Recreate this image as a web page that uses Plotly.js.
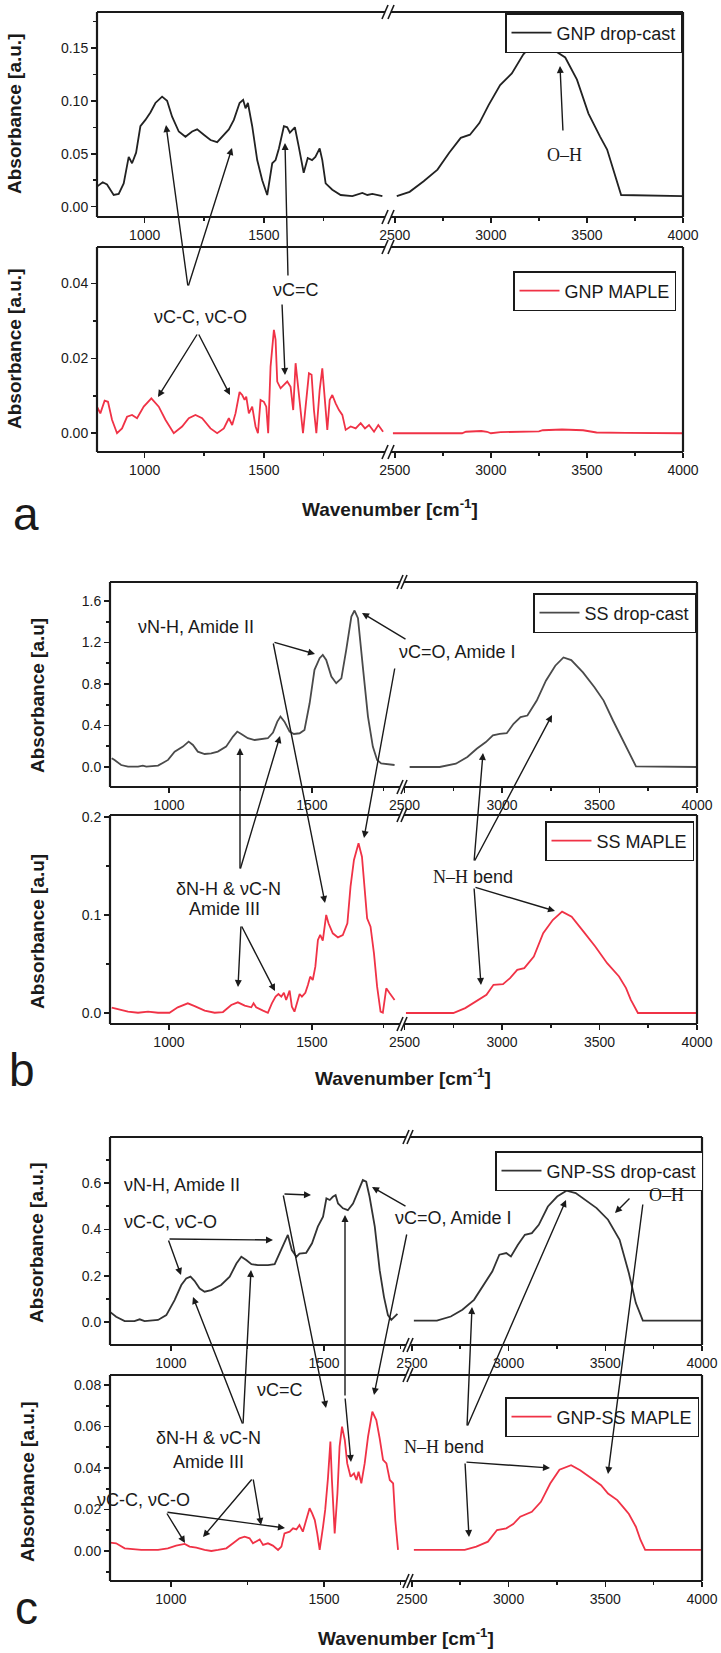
<!DOCTYPE html>
<html>
<head>
<meta charset="utf-8">
<script src="https://cdn.plot.ly/plotly-3.0.1.min.js"></script>
<style>html,body{margin:0;padding:0;background:#fff}#chart{width:721px;height:1653px}</style>
</head>
<body>
<div id="chart"></div>
<script>
// ---------- DATA ----------
// Panel a: GNP
const gnpDropLeftX = [800,824,842,870,891,912,933,947,964,982,1003,1024,1045,1073,1094,1115,1143,1171,1199,1220,1248,1276,1304,1332,1353,1374,1398,1413,1423,1433,1451,1472,1493,1514,1535,1549,1563,1584,1598,1609,1630,1646,1667,1684,1702,1716,1734,1745,1759,1787,1822,1871,1913,1934,1955,1997];
const gnpDropLeftY = [0.019,0.023,0.021,0.011,0.012,0.022,0.047,0.041,0.051,0.076,0.082,0.089,0.098,0.104,0.100,0.085,0.071,0.066,0.071,0.073,0.068,0.063,0.061,0.068,0.073,0.082,0.098,0.101,0.093,0.098,0.076,0.044,0.025,0.011,0.041,0.044,0.055,0.076,0.075,0.070,0.075,0.057,0.032,0.046,0.044,0.047,0.055,0.044,0.022,0.016,0.011,0.010,0.013,0.011,0.012,0.010];
const gnpDropRightX = [2510,2577,2650,2722,2783,2843,2891,2940,2988,3048,3109,3169,3230,3278,3327,3387,3448,3508,3569,3605,3678,4000];
const gnpDropRightY = [0.010,0.014,0.024,0.035,0.051,0.065,0.068,0.079,0.096,0.115,0.126,0.144,0.156,0.156,0.148,0.141,0.120,0.088,0.066,0.054,0.011,0.010];
const gnpMapleLeftX = [800,814,832,846,863,884,905,926,947,968,996,1028,1059,1087,1122,1157,1185,1213,1241,1276,1304,1332,1353,1367,1381,1398,1409,1419,1426,1437,1451,1465,1475,1486,1500,1510,1518,1528,1542,1549,1556,1570,1584,1598,1612,1623,1633,1643,1654,1664,1675,1689,1700,1710,1720,1734,1745,1756,1766,1776,1787,1801,1815,1829,1843,1864,1885,1906,1924,1941,1962,1980,2000];
const gnpMapleLeftY = [0.0071,0.0053,0.0087,0.0084,0.0036,0.0,0.0013,0.0044,0.0049,0.004,0.0071,0.0093,0.0071,0.0036,0.0,0.0018,0.004,0.0049,0.004,0.0013,0.0,0.0013,0.004,0.0022,0.0053,0.011,0.0102,0.0089,0.0098,0.0053,0.0071,0.0018,0.0,0.0089,0.0084,0.0071,0.0,0.0178,0.0276,0.025,0.0138,0.012,0.0129,0.0138,0.0124,0.0062,0.0187,0.0124,0.0062,0.0,0.0071,0.016,0.0156,0.0062,0.0,0.0116,0.0173,0.0098,0.0009,0.0089,0.0102,0.008,0.0062,0.0049,0.0009,0.0018,0.0013,0.0027,0.0013,0.0022,0.0004,0.0022,0.0004];
const gnpMapleRightX = [2490,2850,2870,2950,2980,3000,3050,3250,3270,3370,3480,3550,3700,4000];
const gnpMapleRightY = [0,0,0.0004,0.0006,0.0004,0,0.0003,0.0005,0.0008,0.001,0.0008,0.0002,0.0001,0];
// Panel b: SS
const ssDropLeftX = [800,810,833,857,892,909,921,962,997,1020,1049,1069,1084,1101,1125,1148,1171,1200,1224,1239,1253,1276,1300,1323,1346,1364,1379,1390,1404,1422,1437,1457,1474,1492,1509,1527,1538,1550,1568,1585,1603,1620,1638,1649,1661,1678,1696,1713,1728,1742,1766,1789];
const ssDropLeftY = [0.084,0.068,0.019,0.003,0.003,0.013,0.003,0.013,0.068,0.148,0.196,0.244,0.212,0.148,0.125,0.132,0.148,0.196,0.293,0.341,0.318,0.277,0.26,0.267,0.277,0.331,0.437,0.486,0.437,0.341,0.318,0.325,0.357,0.614,0.936,1.048,1.08,1.032,0.871,0.807,0.855,1.129,1.45,1.508,1.434,0.968,0.486,0.196,0.068,0.035,0.029,0.019];
const ssDropRightX = [2526,2680,2763,2822,2870,2917,2953,2988,3024,3059,3095,3130,3178,3225,3273,3315,3355,3415,3474,3521,3569,3628,3687,4000];
const ssDropRightY = [0,0,0.032,0.096,0.176,0.24,0.304,0.32,0.326,0.416,0.48,0.496,0.64,0.832,0.976,1.056,1.03,0.912,0.768,0.64,0.448,0.224,0.006,0];
const ssMapleLeftX = [800,822,857,892,927,962,1002,1031,1066,1090,1125,1160,1189,1218,1241,1265,1288,1296,1305,1329,1346,1360,1373,1383,1393,1402,1410,1422,1430,1439,1449,1457,1465,1477,1486,1494,1503,1512,1521,1529,1538,1550,1558,1573,1591,1608,1624,1635,1647,1663,1675,1684,1693,1705,1717,1728,1740,1748,1760,1772,1783,1789];
const ssMapleLeftY = [0.0054,0.0037,0.0014,0.0003,0.0014,0.0003,0.0003,0.0058,0.0099,0.0071,0.0024,0.0003,0.001,0.0082,0.0109,0.0075,0.0058,0.0099,0.0058,0.0024,0.0003,0.0099,0.0167,0.0194,0.0167,0.0207,0.0133,0.0228,0.0065,0.0014,0.0116,0.0194,0.0167,0.0207,0.0286,0.0371,0.0337,0.0473,0.0745,0.0796,0.0738,0.1,0.0915,0.0813,0.0772,0.0796,0.0915,0.1289,0.1561,0.1731,0.1595,0.1289,0.0966,0.0881,0.0609,0.0269,0.0014,0.0003,0.0252,0.0201,0.015,0.0133];
const ssMapleRightX = [2507,2750,2811,2883,2920,2956,3005,3041,3078,3114,3163,3211,3260,3308,3357,3418,3478,3539,3600,3636,3660,3697,4000];
const ssMapleRightY = [0,0,0.005,0.0142,0.0186,0.0288,0.0295,0.0356,0.044,0.0458,0.0576,0.0814,0.0949,0.1034,0.0983,0.083,0.0678,0.0508,0.0373,0.0254,0.0136,0,0];
// Panel c: GNP-SS
const gsDropLeftX = [800,821,849,881,898,914,958,985,1012,1034,1050,1064,1077,1094,1110,1132,1164,1192,1214,1230,1246,1263,1284,1317,1339,1350,1366,1382,1395,1410,1420,1442,1461,1480,1497,1508,1519,1529,1538,1546,1562,1578,1595,1611,1627,1638,1649,1666,1682,1696,1709,1720,1731,1740];
const gsDropLeftY = [0.045,0.023,0.004,0.004,0.012,0.004,0.009,0.030,0.095,0.160,0.188,0.196,0.178,0.145,0.131,0.138,0.160,0.196,0.253,0.282,0.268,0.250,0.246,0.246,0.250,0.282,0.332,0.376,0.311,0.282,0.296,0.299,0.340,0.412,0.455,0.534,0.527,0.541,0.548,0.512,0.491,0.483,0.512,0.563,0.613,0.606,0.541,0.412,0.224,0.109,0.030,0.009,0.023,0.035];
const gsDropRightX = [2510,2629,2701,2761,2821,2880,2916,2952,2988,3012,3048,3084,3120,3156,3203,3251,3299,3347,3395,3455,3514,3574,3622,3658,3694,4000];
const gsDropRightY = [0.006,0.006,0.024,0.053,0.096,0.176,0.219,0.291,0.298,0.283,0.334,0.377,0.384,0.42,0.499,0.542,0.567,0.557,0.528,0.492,0.442,0.355,0.211,0.082,0.006,0.006];
const gsMapleLeftX = [800,821,849,903,958,990,1017,1045,1061,1083,1110,1132,1154,1181,1203,1224,1241,1257,1268,1279,1290,1301,1317,1333,1350,1361,1371,1388,1399,1410,1420,1431,1442,1453,1461,1470,1478,1486,1497,1504,1513,1521,1526,1535,1544,1551,1559,1568,1576,1587,1598,1606,1613,1622,1633,1644,1658,1671,1682,1693,1704,1715,1726,1733,1742];
const gsMapleLeftY = [0.004,0.0037,0.0013,0.0005,0.0005,0.0013,0.0026,0.0034,0.0021,0.0016,0.0005,0,0.0005,0.0013,0.0037,0.0061,0.0069,0.0061,0.0037,0.0045,0.0056,0.0029,0.0037,0.0026,0.0005,0.0021,0.0085,0.0093,0.0109,0.0104,0.0125,0.0093,0.0149,0.0206,0.0182,0.0149,0.0085,0.0005,0.0117,0.0198,0.035,0.0527,0.0342,0.0085,0.0278,0.0503,0.0599,0.0535,0.0422,0.0358,0.0374,0.0342,0.0382,0.0326,0.0422,0.0551,0.0671,0.0631,0.0543,0.0439,0.0422,0.0342,0.0326,0.0149,0.0005];
const gsMapleRightX = [2510,2773,2833,2893,2940,2988,3024,3060,3120,3167,3215,3263,3323,3370,3430,3478,3514,3562,3598,3622,3658,3682,3706,3789,3885,4000];
const gsMapleRightY = [0.0005,0.0005,0.0021,0.0045,0.0101,0.0109,0.013,0.0165,0.0189,0.0237,0.0325,0.0392,0.0413,0.0389,0.0349,0.0317,0.0277,0.0245,0.0205,0.0178,0.0117,0.0053,0.0005,0.0005,0.0008,0.0005];

const seriesNames = ["GNP drop-cast","GNP MAPLE","SS drop-cast","SS MAPLE","GNP-SS drop-cast","GNP-SS MAPLE"];
const leftTickVals = [1000,1500];
const rightTickVals = [2500,3000,3500,4000];

// ---------- LAYOUT GEOMETRY (pixels) ----------
const W = 721, H = 1653;
const xf = p => p / W, yf = p => 1 - p / H;
const SANS = "Liberation Sans, Arial, sans-serif";
const SERIF = "Liberation Serif, Times New Roman, serif";
const INK = "#1a1a1a";
const RED = "rgb(240,50,70)";

const rows = [
  {top:12,  bot:217,  L:[97,385],  R:[391,683], xrL:[800,2008], xrR:[2480,4000], yr:[-0.0098,0.184], dt:0.05, fmt:".2f", x:gnpDropLeftX, y:gnpDropLeftY, x2:gnpDropRightX, y2:gnpDropRightY, color:"#222", leg:[682,13]},
  {top:247, bot:452,  L:[97,385],  R:[391,683], xrL:[800,2008], xrR:[2480,4000], yr:[-0.005,0.0497], dt:0.02, fmt:".2f", x:gnpMapleLeftX, y:gnpMapleLeftY, x2:gnpMapleRightX, y2:gnpMapleRightY, color:RED, leg:[676,271]},
  {top:582, bot:787,  L:[110,400], R:[404,697], xrL:[794,1808], xrR:[2497,4000], yr:[-0.193,1.783], dt:0.4, fmt:".1f", x:ssDropLeftX, y:ssDropLeftY, x2:ssDropRightX, y2:ssDropRightY, color:"#4a4a4a", leg:[696,593]},
  {top:815, bot:1024, L:[110,400], R:[404,697], xrL:[794,1808], xrR:[2497,4000], yr:[-0.0112,0.202], dt:0.1, fmt:".1f", x:ssMapleLeftX, y:ssMapleLeftY, x2:ssMapleRightX, y2:ssMapleRightY, color:RED, leg:[694,821]},
  {top:1137,bot:1345, L:[110,406], R:[410,702], xrL:[801,1768], xrR:[2490,4000], yr:[-0.099,0.799], dt:0.2, fmt:".1f", x:gsDropLeftX, y:gsDropLeftY, x2:gsDropRightX, y2:gsDropRightY, color:"#333", leg:[703,1151]},
  {top:1375,bot:1581, L:[110,406], R:[410,702], xrL:[801,1768], xrR:[2490,4000], yr:[-0.01446,0.0848], dt:0.02, fmt:".2f", x:gsMapleLeftX, y:gsMapleLeftY, x2:gsMapleRightX, y2:gsMapleRightY, color:RED, leg:[699,1397]}
];

const layout = {
  width: W, height: H, margin:{l:0,r:0,t:0,b:0}, paper_bgcolor:"#fff", plot_bgcolor:"rgba(0,0,0,0)",
  font:{family:SANS, color:INK, size:14}, shapes:[], annotations:[]
};
const data = [];
const tickfont = {family:SANS, size:14, color:INK};

function line(x0,y0,x1,y1,w){
  layout.shapes.push({type:"line", xref:"paper", yref:"paper", x0:xf(x0), y0:yf(y0), x1:xf(x1), y1:yf(y1), line:{color:INK, width:w||2.2}});
}

rows.forEach((r,i)=>{
  const xa = 2*i+1, xb = 2*i+2, ya = i+1;
  const xkA = xa===1 ? "xaxis" : "xaxis"+xa;
  const yk = ya===1 ? "yaxis" : "yaxis"+ya;
  const xidA = xa===1 ? "x" : "x"+xa, xidB = "x"+xb, yid = ya===1 ? "y" : "y"+ya;
  const legKey = i===0 ? "legend" : "legend"+(i+1);
  const common = {showgrid:false, zeroline:false, showline:false, ticks:"outside", ticklen:5, tickwidth:1.6, tickcolor:INK, tickfont:tickfont, fixedrange:true};
  layout[xkA] = Object.assign({}, common, {domain:[xf(r.L[0]), xf(r.L[1])], range:r.xrL, anchor:yid, tickmode:"array", tickvals:leftTickVals,
     minor:{tickmode:"array", tickvals:[1250,1750], ticks:"outside", ticklen:3, tickwidth:1.6, tickcolor:INK}});
  layout["xaxis"+xb] = Object.assign({}, common, {domain:[xf(r.R[0]), xf(r.R[1])], range:r.xrR, anchor:yid, tickmode:"array", tickvals:rightTickVals,
     minor:{tickmode:"array", tickvals:[2750,3250,3750], ticks:"outside", ticklen:3, tickwidth:1.6, tickcolor:INK}});
  layout[yk] = Object.assign({}, common, {domain:[yf(r.bot), yf(r.top)], range:r.yr, anchor:xidA, dtick:r.dt, tick0:0, tickformat:r.fmt,
     minor:{dtick:r.dt/2, tick0:0, ticks:"outside", ticklen:3, tickwidth:1.6, tickcolor:INK}});
  layout[legKey] = {x:xf(r.leg[0]), xanchor:"right", y:yf(r.leg[1]), yanchor:"top", bgcolor:"#fff", bordercolor:INK, borderwidth:1.5,
     font:{family:SANS, size:18, color:INK}, itemwidth:40, tracegroupgap:0};
  data.push({type:"scatter", mode:"lines", x:r.x, y:r.y, xaxis:xidA, yaxis:yid, name:seriesNames[i], legend:legKey, showlegend:true,
     line:{color:r.color, width:1.8}, hoverinfo:"skip"});
  data.push({type:"scatter", mode:"lines", x:r.x2, y:r.y2, xaxis:xidB, yaxis:yid, name:seriesNames[i], legend:legKey, showlegend:false,
     line:{color:r.color, width:1.8}, hoverinfo:"skip"});
  // frame with broken axis
  line(r.L[0], r.top, r.L[0], r.bot);
  line(r.R[1], r.top, r.R[1], r.bot);
  line(r.L[0], r.top, r.L[1], r.top); line(r.R[0], r.top, r.R[1], r.top);
  line(r.L[0], r.bot, r.L[1], r.bot); line(r.R[0], r.bot, r.R[1], r.bot);
  [r.top, r.bot].forEach(yy=>{
    line(r.L[1]-3, yy+7, r.L[1]+3, yy-7, 1.6);
    line(r.R[0]-3, yy+7, r.R[0]+3, yy-7, 1.6);
  });
});

// ---------- TEXT LABELS ----------
function txt(t,x,y,opt){
  layout.annotations.push(Object.assign({text:t, xref:"paper", yref:"paper", x:xf(x), y:yf(y), xanchor:"center", yanchor:"middle",
    showarrow:false, font:{family:SANS, size:18, color:INK}}, opt||{}));
}
function arrow(tx,ty,hx,hy){
  layout.annotations.push({text:"", xref:"paper", yref:"paper", x:xf(hx), y:yf(hy), axref:"pixel", ayref:"pixel", ax:tx-hx, ay:ty-hy,
    showarrow:true, arrowhead:2, arrowsize:1, arrowwidth:1.4, arrowcolor:INK, standoff:0});
}
const NH = '<span style="font-family:Liberation Serif">N–H</span> bend';
const serif = {font:{family:SERIF, size:18, color:INK}};
const bold = {family:SANS, size:19, color:INK, weight:"bold"};

// y titles
[["Absorbance [a.u.]",14,114],["Absorbance [a.u.]",14,349],["Absorbance [a.u]",37,696],["Absorbance [a.u]",37,932],["Absorbance [a.u.]",36,1243],["Absorbance [a.u.]",27,1482]]
  .forEach(a=>txt(a[0],a[1],a[2],{textangle:-90, font:bold}));
// x titles
[[390,508],[403,1077],[406,1637]].forEach(a=>txt("Wavenumber [cm<sup>-1</sup>]",a[0],a[1],{font:bold}));
// panel letters
[["a",26,514],["b",22,1070],["c",27,1608]].forEach(a=>txt(a[0],a[1],a[2],{font:{family:SANS,size:46,color:INK}}));

// panel a
txt("νC-C, νC-O",200,317);
txt("νC=C",296,290);
txt("O–H",564,155,serif);
arrow(188,287,166,125); arrow(188,287,232,148);
arrow(198,333,158,397); arrow(198,333,230,395);
arrow(288,277,285,143); arrow(282,303,285,375);
arrow(563,132,560,66);

// panel b
txt("νN-H, Amide II",196,627);
txt("νC=O, Amide I",457,652);
txt("δN-H &amp; νC-N",228,889);
txt("Amide III",225,909);
txt(NH,473,877);
arrow(273,642,315,654); arrow(273,642,325,903);
arrow(407,640,362,613); arrow(395,667,364,838);
arrow(240,870,240,748); arrow(240,870,280,736);
arrow(241,925,238,987); arrow(241,925,275,991);
arrow(474,862,483,753); arrow(474,862,552,715);
arrow(474,887,481,985); arrow(474,887,555,911);

// panel c
txt("νN-H, Amide II",182,1185);
txt("νC-C, νC-O",170,1222);
txt("νC=O, Amide I",453,1218);
txt("O–H",666,1195,serif);
txt("δN-H &amp; νC-N",208,1438);
txt("Amide III",208,1462);
txt("νC-C, νC-O",143,1500);
txt("νC=C",280,1390);
txt(NH,444,1447);
arrow(168,1239,273,1240); arrow(168,1239,181,1275);
arrow(283,1194,311,1195); arrow(283,1194,326,1408);
arrow(407,1207,372,1187); arrow(407,1233,374,1395);
arrow(631,1197,615,1213); arrow(643,1203,608,1474);
arrow(243,1425,251,1270); arrow(243,1425,193,1297);
arrow(253,1478,203,1537); arrow(253,1478,261,1525);
arrow(166,1512,185,1543); arrow(166,1512,285,1528);
arrow(345,1397,351,1462); arrow(345,1397,345,1215);
arrow(465,1462,469,1537); arrow(465,1462,550,1468);
arrow(467,1427,472,1307); arrow(467,1427,566,1200);

Plotly.newPlot("chart", data, layout, {staticPlot:true, displayModeBar:false});
</script>
</body>
</html>
